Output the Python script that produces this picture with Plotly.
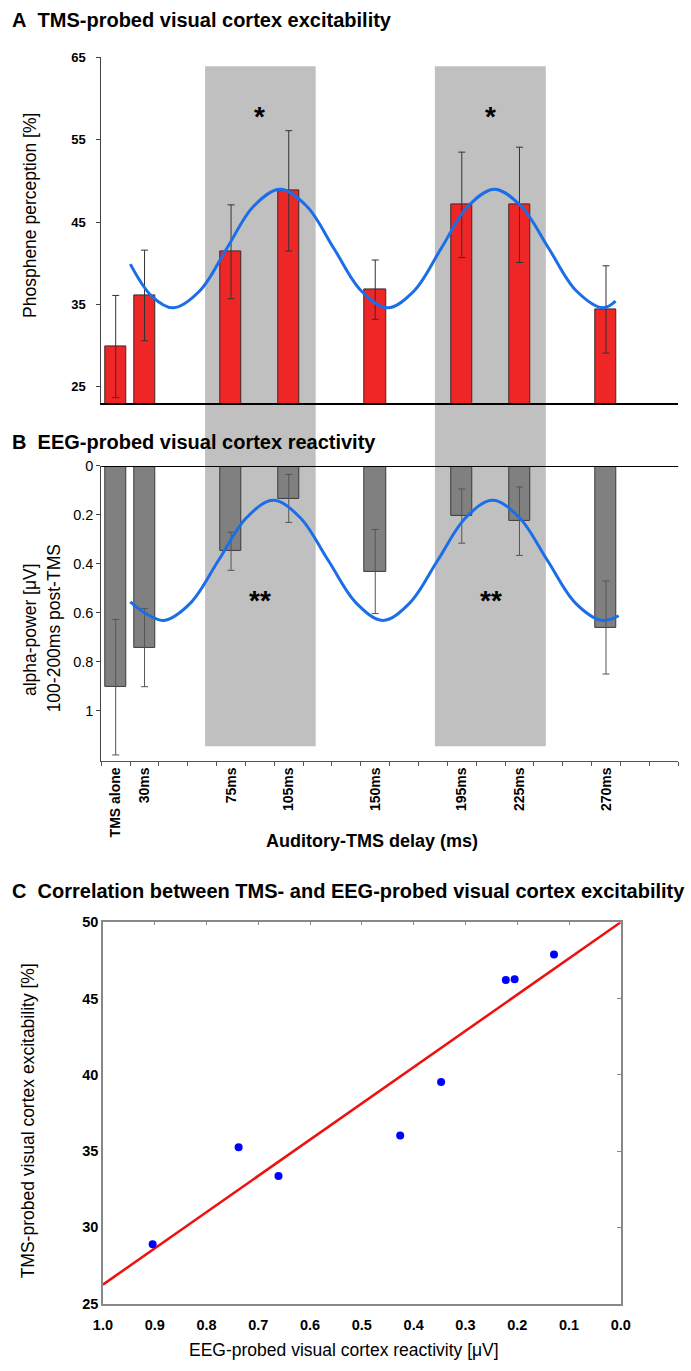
import plotly.graph_objects as go

# ---------------- data ----------------
labels = ["TMS alone", "30ms", "75ms", "105ms", "150ms", "195ms", "225ms", "270ms"]
delays_ms = [15, 30, 75, 105, 150, 195, 225, 270]   # "TMS alone" sits one 15-ms slot before 30 ms

phosphene = [29.9, 36.1, 41.4, 48.8, 36.8, 47.1, 47.1, 34.4]
phosphene_err = [6.2, 5.5, 5.7, 7.3, 3.6, 6.4, 7.0, 5.3]

alpha_power = [0.905, 0.743, 0.349, 0.133, 0.432, 0.205, 0.226, 0.661]
alpha_err = [0.277, 0.160, 0.078, 0.098, 0.172, 0.111, 0.140, 0.190]

fitA_ms = [22.6, 33.8, 45, 58.9, 72.75, 86.6, 100.5, 114.5, 128.5, 142.5, 156.5, 170.4,
           184.25, 198.1, 212, 226, 240.25, 254.4, 268.5, 275]
fitA_val = [39.9, 36.0, 34.6, 36.7, 41.8, 46.9, 49.0, 46.9, 41.8, 36.7, 34.6, 36.7,
            41.8, 46.9, 49.0, 46.9, 41.8, 36.7, 34.6, 35.4]

fitB_ms = [22.6, 31, 40, 54, 68.5, 83, 97, 111, 125.5, 140, 154, 168, 182.5, 197, 211,
           225, 239.5, 254, 268, 276.6]
fitB_val = [0.556, 0.605, 0.632, 0.56, 0.386, 0.212, 0.14, 0.212, 0.386, 0.56, 0.632,
            0.56, 0.386, 0.212, 0.14, 0.212, 0.386, 0.56, 0.632, 0.613]

windows = [(61.5, 119.0), (181.0, 238.7)]
star_ms = [90, 210]

eeg_x = [0.904, 0.738, 0.661, 0.426, 0.347, 0.222, 0.205, 0.129]
tms_y = [28.9, 35.25, 33.37, 36.03, 39.53, 46.22, 46.26, 47.88]
reg_x = [1.0, 0.0]
reg_y = [26.25, 50.0]

# ---------------- geometry helpers ----------------
W, H = 691, 1371
def py(p):
    return 1 - p / H
def px(p):
    return p / W

FONT = "Liberation Sans, Arial, sans-serif"
BLUE = "#1A6EE8"

fig = go.Figure()

# Panel A
fig.add_trace(go.Bar(x=delays_ms, y=phosphene, width=11, xaxis="x", yaxis="y",
                     marker=dict(color="rgb(238,38,38)", line=dict(color="#3a2a2a", width=1)),
                     error_y=dict(type="data", array=phosphene_err, color="#333333",
                                  thickness=1, width=3.5),
                     showlegend=False))
fig.add_trace(go.Scatter(x=fitA_ms, y=fitA_val, xaxis="x", yaxis="y", mode="lines",
                         line=dict(color=BLUE, width=3, shape="spline", smoothing=1),
                         showlegend=False))

# Panel B
fig.add_trace(go.Bar(x=delays_ms, y=alpha_power, width=11, xaxis="x2", yaxis="y2",
                     marker=dict(color="#808080", line=dict(color="#3a3a3a", width=1)),
                     error_y=dict(type="data", array=alpha_err, color="#555555",
                                  thickness=1, width=3.5),
                     showlegend=False))
fig.add_trace(go.Scatter(x=fitB_ms, y=fitB_val, xaxis="x2", yaxis="y2", mode="lines",
                         line=dict(color=BLUE, width=3, shape="spline", smoothing=1),
                         showlegend=False))

# Panel C
fig.add_trace(go.Scatter(x=reg_x, y=reg_y, xaxis="x3", yaxis="y3", mode="lines",
                         line=dict(color="#EE1111", width=2.5), showlegend=False))
fig.add_trace(go.Scatter(x=eeg_x, y=tms_y, xaxis="x4", yaxis="y4", mode="markers",
                         marker=dict(color="#0000FF", size=8), showlegend=False))

xdom = [px(94), px(688)]
xrange_ = [7.5, 307.5]
boundaries = [7.5 + 15 * k for k in range(21)]

fig.update_layout(
    width=W, height=H,
    margin=dict(l=0, r=0, t=0, b=0, pad=0),
    paper_bgcolor="white", plot_bgcolor="rgba(0,0,0,0)",
    font=dict(family=FONT, color="black"),
    bargap=0,
    xaxis=dict(domain=xdom, anchor="y", range=xrange_, showline=True, linecolor="black",
               linewidth=2, ticks="", showticklabels=False, showgrid=False, zeroline=False),
    yaxis=dict(domain=[py(400), py(50)], anchor="x", range=[23, 65], showline=True,
               linecolor="#444", linewidth=1, ticks="outside", ticklen=4, tickcolor="#444",
               tickvals=[25, 35, 45, 55, 65], showgrid=False, zeroline=False,
               ticklabelstandoff=8,
               tickfont=dict(family=FONT, size=13, weight="bold")),
    xaxis2=dict(domain=xdom, anchor="y2", range=xrange_, showline=True, linecolor="#555",
                linewidth=1, tickmode="array", tickvals=delays_ms, ticktext=labels,
                ticks="", tickangle=-90, showgrid=False, zeroline=False,
                tickfont=dict(family=FONT, size=14, weight="bold"),
                minor=dict(tickmode="array", tickvals=boundaries, ticks="outside",
                           ticklen=4, tickcolor="#555", showgrid=False)),
    yaxis2=dict(domain=[py(761.7), py(463.3)], anchor="x2", range=[1.206, 0],
                showline=True, linecolor="#444", linewidth=1, ticks="outside", ticklen=4,
                tickcolor="#444", tickvals=[0, 0.2, 0.4, 0.6, 0.8, 1.0],
                ticktext=["0", "0.2", "0.4", "0.6", "0.8", "1"], showgrid=False,
                zeroline=False, tickfont=dict(family=FONT, size=14.5)),
    xaxis3=dict(domain=[px(95.7), px(629)], anchor="y3", range=[1.0, 0.0], showline=True,
                mirror=True, linecolor="#888", linewidth=1.5, ticks="",
                tickvals=[round(0.1 * k, 1) for k in range(11)],
                ticktext=["%.1f" % (0.1 * k) for k in range(11)],
                showgrid=False, zeroline=False, ticklabelstandoff=7,
                tickfont=dict(family=FONT, size=14.5, weight="bold")),
    yaxis3=dict(domain=[py(1311), py(925)], anchor="x3", range=[25, 50], showline=True,
                mirror=True, linecolor="#888", linewidth=1.5, ticks="",
                tickvals=[25, 30, 35, 40, 45, 50], showgrid=False, zeroline=False,
                tickfont=dict(family=FONT, size=14.5, weight="bold")),
    xaxis4=dict(overlaying="x3", side="top", anchor="y3", range=[1.0, 0.0],
                showline=False, ticks="inside", ticklen=3, tickcolor="#888",
                tickvals=[round(0.1 * k, 1) for k in range(11)], showticklabels=False,
                showgrid=False, zeroline=False),
    yaxis4=dict(overlaying="y3", side="right", anchor="x3", range=[25, 50],
                showline=False, ticks="inside", ticklen=4, tickcolor="#888",
                tickvals=[30, 35, 40, 45], showticklabels=False,
                showgrid=False, zeroline=False),
)

# shaded windows
for (a, b) in windows:
    fig.add_shape(type="rect", xref="x", yref="paper", x0=a, x1=b, y0=py(747), y1=py(59),
                  fillcolor="#C0C0C0", line=dict(width=0), layer="below")

# zero line of panel B
fig.add_shape(type="line", xref="x2 domain", yref="y2", x0=0, x1=1, y0=0, y1=0,
              line=dict(color="black", width=2), layer="above")

ann = []
def add_text(text, x, y, size, bold=False, angle=0, xanchor="center", xref="paper"):
    ann.append(dict(text=text, x=x, y=y, xref=xref, yref="paper", showarrow=False,
                    xanchor=xanchor, yanchor="middle", textangle=angle,
                    font=dict(family=FONT, size=size, color="black",
                              weight="bold" if bold else "normal")))

add_text("A\u00a0\u00a0TMS-probed visual cortex excitability", 0, py(12), 20, True, xanchor="left")
add_text("B\u00a0\u00a0EEG-probed visual cortex reactivity", 0, py(439), 20, True, xanchor="left")
add_text("C\u00a0\u00a0Correlation between TMS- and EEG-probed visual cortex excitability",
         0, py(893), 20, True, xanchor="left")
add_text("Phosphene perception [%]", px(20), py(210), 17.5, angle=-90)
add_text("alpha-power [\u03bcV]", px(20), py(629), 17.5, angle=-90)
add_text("100-200ms post-TMS", px(45), py(628), 17.5, angle=-90)
add_text("Auditory-TMS delay (ms)", px(373), py(843), 18, True)
add_text("TMS-probed visual cortex excitability [%]", px(18), py(1126), 17.5, angle=-90)
add_text("EEG-probed visual cortex reactivity [\u03bcV]", px(344), py(1358), 17.5)
for s in star_ms:
    add_text("*", s, py(110), 28, True, xref="x")
    add_text("**", s, py(600), 28, True, xref="x")

fig.update_layout(annotations=ann)
fig.write_html("out.html", config={"displayModeBar": False},
               post_script="document.body.style.margin='0';document.body.style.padding='0';"
                           "document.documentElement.style.overflow='hidden';")
